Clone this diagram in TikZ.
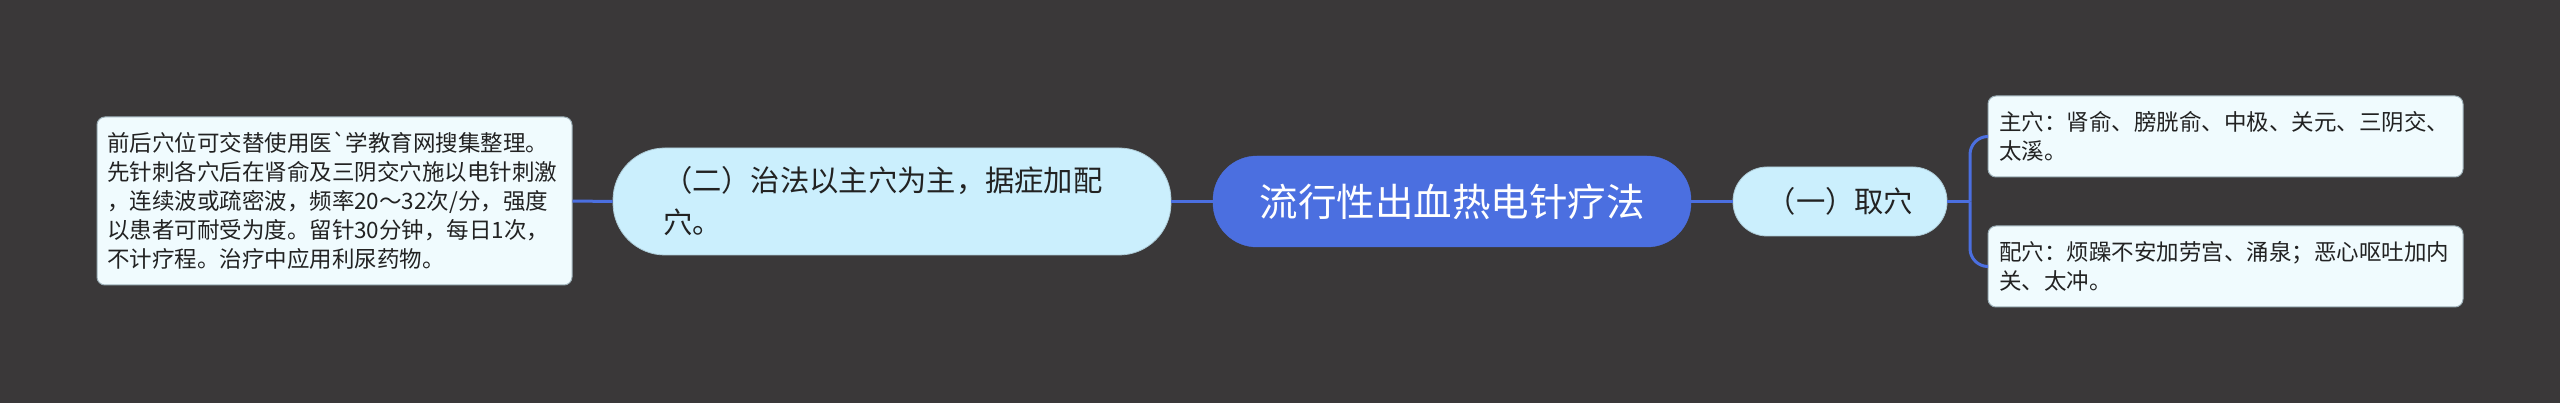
\documentclass[tikz,border=0pt]{standalone}
\usepackage{fontspec}
\setmainfont{Noto Sans CJK SC}[Ligatures=TeXOff]
\definecolor{bgc}{HTML}{3A3839}
\definecolor{blueC}{HTML}{4B6FE0}
\definecolor{midC}{HTML}{CBEFFD}
\definecolor{leafC}{HTML}{F0FBFE}
\definecolor{leafB}{HTML}{9DB0B8}
\definecolor{txtC}{HTML}{222222}
\tikzset{
  rootbox/.style={fill=blueC, draw=blueC, text=white, rounded corners=44pt,
    minimum width=478pt, minimum height=91pt, inner sep=0pt,
    font=\fontsize{38.5}{46}\selectfont},
  midbox/.style={fill=midC, draw=midC!85!black, line width=0.8pt, text=txtC,
    inner sep=0pt, font=\fontsize{29.3}{42}\selectfont},
  leafbox/.style={fill=leafC, draw=leafB, line width=1pt, text=txtC,
    rounded corners=8pt, align=left, inner ysep=0pt, minimum width=475pt,
    font=\fontsize{22.5}{29}\selectfont},
  conn/.style={draw=blueC, line width=3pt}
}
\begin{document}
\begin{tikzpicture}[x=1pt,y=-1pt]
\fill[bgc] (0,0) rectangle (2560,403);
\useasboundingbox (0,0) rectangle (2560,403);

\node[rootbox] (root) at (1452,201.5) {流行性出血热电针疗法};

\node[midbox, rounded corners=52pt, minimum width=558pt, minimum height=107pt,
  align=left, text width=458pt, inner xsep=50pt] (midL) at (892,201.5)
  {（二）治法以主穴为主，据症加配\\穴。};

\node[midbox, rounded corners=34pt, minimum width=214pt, minimum height=69pt]
  (midR) at (1840,201.5) {（一）取穴};

\node[leafbox, minimum height=168pt, text width=455pt, inner xsep=10pt]
  (leafL) at (334.5,201)
  {前后穴位可交替使用医`学教育网搜集整理。\\
   先针刺各穴后在肾俞及三阴交穴施以电针刺激\\
   ，连续波或疏密波，频率20～32次/分，强度\\
   以患者可耐受为度。留针30分钟，每日1次，\\
   不计疗程。治疗中应用利尿药物。};

\node[leafbox, minimum height=81pt, text width=453pt, inner xsep=11pt]
  (leafR1) at (2225.5,136.5)
  {主穴：肾俞、膀胱俞、中极、关元、三阴交、\\太溪。};

\node[leafbox, minimum height=81pt, text width=453pt, inner xsep=11pt]
  (leafR2) at (2225.5,266.5)
  {配穴：烦躁不安加劳宫、涌泉；恶心呕吐加内\\关、太冲。};

\coordinate (fork) at (1970,201.5);

\draw[conn] (leafL.east) -- (midL.west);
\draw[conn] (midL.east) -- (root.west);
\draw[conn] (root.east) -- (midR.west);
\draw[conn] (midR.east) -- (fork);
\draw[conn, rounded corners=18pt] (fork) |- (leafR1.west);
\draw[conn, rounded corners=18pt] (fork) |- (leafR2.west);
\end{tikzpicture}
\end{document}
